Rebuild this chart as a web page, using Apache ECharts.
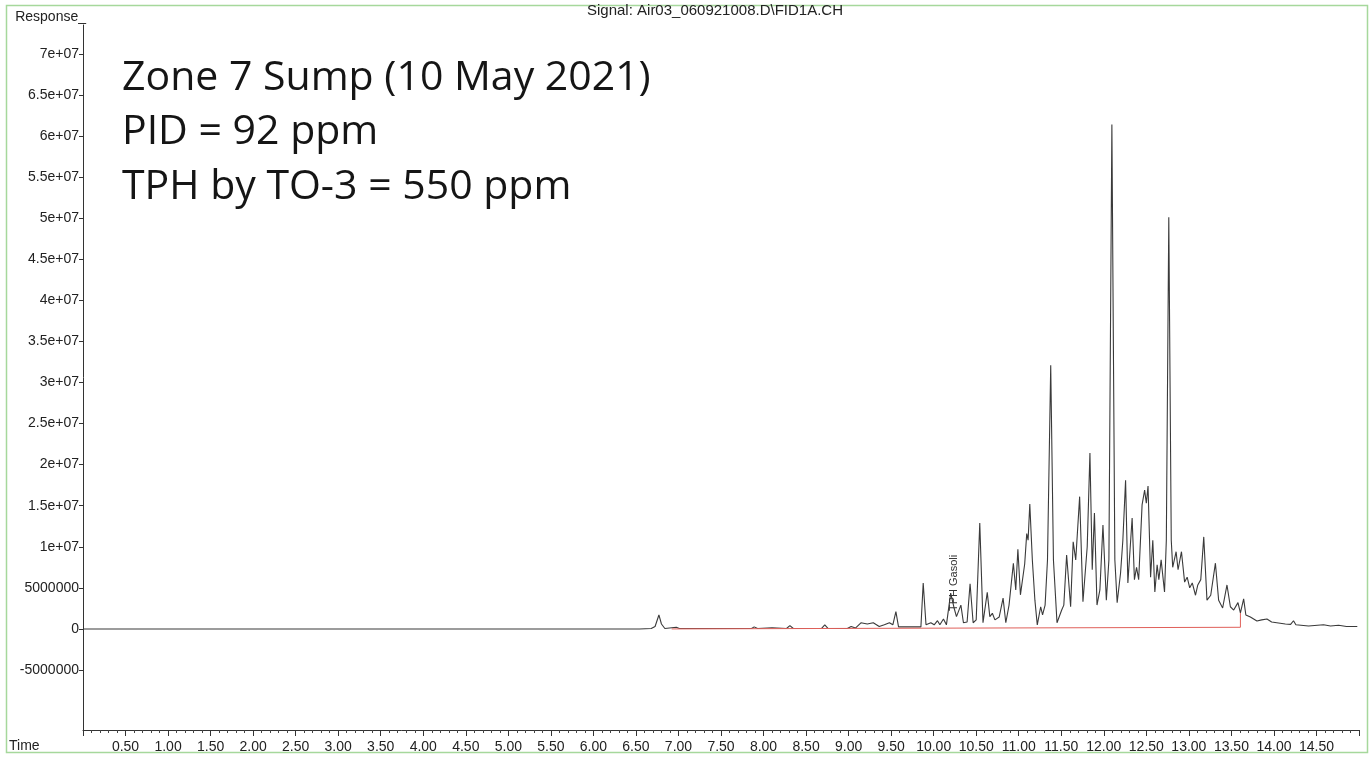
<!DOCTYPE html>
<html>
<head>
<meta charset="utf-8">
<script src="https://cdn.jsdelivr.net/npm/echarts@6/dist/echarts.min.js"></script>
<style>
  html, body { margin: 0; padding: 0; background: #ffffff; }
  #chromChart { width: 1372px; height: 757px; }
</style>
</head>
<body>
<div id="chromChart"></div>
<script>
// retention time (min)
const times = [
  0, 6.54, 6.68, 6.725, 6.77, 6.80, 6.84, 6.975, 7.01, 7.86, 7.89, 7.93, 8.10, 8.27, 8.31, 8.35,
  8.68, 8.72, 8.76, 8.985, 9.03, 9.08, 9.145, 9.22, 9.29, 9.36, 9.42, 9.48, 9.52, 9.556, 9.587,
  9.85, 9.877, 9.91, 9.967, 10.006, 10.045, 10.073, 10.115, 10.15, 10.20, 10.24, 10.268, 10.32,
  10.35, 10.393, 10.428, 10.464, 10.50, 10.542, 10.58, 10.63, 10.66, 10.69, 10.72, 10.77, 10.816,
  10.848, 10.886, 10.937, 10.965, 10.99, 11.02, 11.07, 11.094, 11.11, 11.13, 11.16, 11.19, 11.218,
  11.258, 11.28, 11.31, 11.338, 11.376, 11.408, 11.45, 11.505, 11.53, 11.563, 11.61, 11.64, 11.67,
  11.716, 11.755, 11.805, 11.837, 11.864, 11.89, 11.92, 11.954, 11.99, 12.03, 12.06, 12.095, 12.13,
  12.157, 12.197, 12.224, 12.256, 12.283, 12.333, 12.36, 12.385, 12.41, 12.45, 12.48, 12.50, 12.52,
  12.55, 12.576, 12.60, 12.627, 12.647, 12.674, 12.714, 12.735, 12.764, 12.793, 12.81, 12.85,
  12.873, 12.913, 12.95, 12.98, 13.01, 13.04, 13.078, 13.105, 13.14, 13.175, 13.213, 13.257,
  13.312, 13.35, 13.397, 13.448, 13.488, 13.527, 13.577, 13.606, 13.644, 13.67, 13.723, 13.80,
  13.856, 13.918, 13.973, 14.134, 14.196, 14.23, 14.258, 14.407, 14.583, 14.665, 14.76, 14.853, 14.98
];
// FID response, millions
const responseM = [
  0, 0, 0.05, 0.3, 1.7, 0.6, 0.05, 0.2, 0.05, 0.05, 0.25, 0.05, 0.15, 0.05, 0.4, 0.05,
  0.05, 0.5, 0.05, 0.05, 0.3, 0.1, 0.75, 0.6, 0.75, 0.3, 0.5, 0.75, 0.5, 2.1, 0.25,
  0.25, 5.6, 0.5, 0.75, 0.5, 1.0, 0.5, 1.2, 0.5, 4.35, 2.55, 1.5, 2.9,
  0.75, 0.85, 5.5, 0.75, 1.1, 12.9, 0.75, 4.45, 1.5, 1.9, 1.1, 1.45, 3.75,
  0.75, 2.9, 8.0, 4.75, 9.7, 4.15, 7.9, 11.6, 10.8, 15.2, 8.4, 3.5, 0.5,
  2.7, 1.7, 2.9, 8.4, 32.1, 8.4, 0.75, 2.3, 2.9, 9.0, 2.7, 10.6, 8.4,
  16.1, 3.3, 10.0, 21.4, 7.2, 14.1, 2.9, 4.75, 12.65, 3.5, 8.4, 61.4, 8.4,
  3.2, 6.8, 10.8, 18.1, 5.6, 13.5, 6.0, 7.5, 6.0, 15.1, 16.9, 15.3, 17.4,
  6.3, 10.8, 4.5, 7.8, 6.0, 8.4, 4.5, 10.8, 50.1, 10.8, 7.5, 9.4,
  7.2, 9.4, 5.7, 6.3, 5.0, 5.6, 4.1, 5.35, 6.0, 11.2, 3.5, 4.1,
  8.0, 3.5, 2.55, 5.35, 2.7, 2.3, 3.2, 1.95, 3.65, 1.7, 1.45, 0.97,
  1.1, 1.2, 0.85, 0.6, 0.55, 1.0, 0.5, 0.35, 0.5, 0.35, 0.45, 0.3, 0.3
];
// integration baseline (red)
const baselineTimes = [6.92, 13.606, 13.606];
const baselineM = [0.0, 0.2, 1.95];

const yTicks = [-5e6, 0, 5e6, 1e7, 1.5e7, 2e7, 2.5e7, 3e7, 3.5e7, 4e7, 4.5e7, 5e7, 5.5e7, 6e7, 6.5e7, 7e7];
const yTickLabels = ['-5000000', '0', '5000000', '1e+07', '1.5e+07', '2e+07', '2.5e+07', '3e+07',
  '3.5e+07', '4e+07', '4.5e+07', '5e+07', '5.5e+07', '6e+07', '6.5e+07', '7e+07'];

const signalTitle = 'Signal: Air03_060921008.D\\FID1A.CH';
const notes = ['Zone 7 Sump (10 May 2021)', 'PID = 92 ppm', 'TPH by TO-3 = 550 ppm'];
const peakName = 'TPH Gasoli';
const peakTime = 10.236;
const peakM = 5.6;

const labelFont = '"Liberation Sans", Arial, sans-serif';

const trace = times.map((t, i) => [t, responseM[i] * 1e6]);
const baseline = baselineTimes.map((t, i) => [t, baselineM[i] * 1e6]);

const myChart = echarts.init(document.getElementById('chromChart'));

const option = {
  backgroundColor: '#ffffff',
  animation: false,
  grid: {
    left: 83,
    right: 13,
    top: 25,
    bottom: 27,
  },
  xAxis: {
    type: 'value',
    min: 0,
    max: 15,
    interval: 0.5,
    axisLine: { onZero: false, lineStyle: { color: '#333333', width: 1 } },
    axisTick: { show: true, length: 6, lineStyle: { color: '#333333' } },
    minorTick: { show: true, splitNumber: 5, length: 3, lineStyle: { color: '#444444' } },
    splitLine: { show: false },
    axisLabel: {
      margin: 10,
      fontSize: 14,
      fontFamily: labelFont,
      color: '#222222',
      formatter: v => (v <= 0 || v >= 15 ? '' : v.toFixed(2)),
    },
  },
  yAxis: {
    type: 'value',
    min: -12.3e6,
    max: 73.5e6,
    name: 'Response_',
    nameLocation: 'end',
    nameGap: 1,
    nameTextStyle: {
      align: 'right',
      verticalAlign: 'bottom',
      fontSize: 14,
      fontFamily: labelFont,
      color: '#222222',
      padding: [0, -3, 0, 0],
    },
    axisLine: { show: true, lineStyle: { color: '#333333', width: 1 } },
    axisTick: { show: true, length: 4, customValues: yTicks, lineStyle: { color: '#333333' } },
    splitLine: { show: false },
    axisLabel: {
      margin: 4,
      fontSize: 14,
      fontFamily: labelFont,
      color: '#222222',
      customValues: yTicks,
      formatter: v => {
        const idx = yTicks.findIndex(y => Math.abs(y - v) < 1);
        return idx >= 0 ? yTickLabels[idx] : '';
      },
    },
  },
  graphic: [
    {
      type: 'rect',
      silent: true,
      shape: { x: 6.5, y: 5.5, width: 1361, height: 747 },
      style: { fill: 'none', stroke: '#a6d89c', lineWidth: 1.5 },
    },
    {
      type: 'text',
      style: {
        text: signalTitle,
        x: 715,
        y: 11,
        align: 'center',
        verticalAlign: 'middle',
        font: '15px ' + labelFont,
        fill: '#222222',
      },
    },
    {
      type: 'text',
      style: {
        text: 'Time',
        x: 9,
        y: 746,
        verticalAlign: 'middle',
        font: '14px ' + labelFont,
        fill: '#222222',
      },
    },
    ...notes.map((line, i) => ({
      type: 'text',
      style: {
        text: line,
        x: 122,
        y: 78 + i * 54.5,
        verticalAlign: 'middle',
        font: '41px "Open Sans"',
        fill: '#151515',
      },
    })),
  ],
  series: [
    {
      name: 'FID1A',
      type: 'line',
      showSymbol: false,
      smooth: false,
      lineStyle: { color: '#3a3a3a', width: 1.1 },
      itemStyle: { color: '#3a3a3a' },
      data: trace,
      z: 2,
      markPoint: {
        symbol: 'circle',
        symbolSize: 0,
        label: {
          show: true,
          position: 'inside',
          rotate: 90,
          formatter: peakName,
          fontSize: 11,
          fontFamily: labelFont,
          color: '#333333',
        },
        data: [{ coord: [peakTime, peakM * 1e6] }],
      },
    },
    {
      name: 'baseline',
      type: 'line',
      showSymbol: false,
      lineStyle: { color: '#e0605a', width: 1 },
      itemStyle: { color: '#e0605a' },
      data: baseline,
      z: 3,
    },
  ],
};

myChart.setOption(option);
</script>
</body>
</html>
